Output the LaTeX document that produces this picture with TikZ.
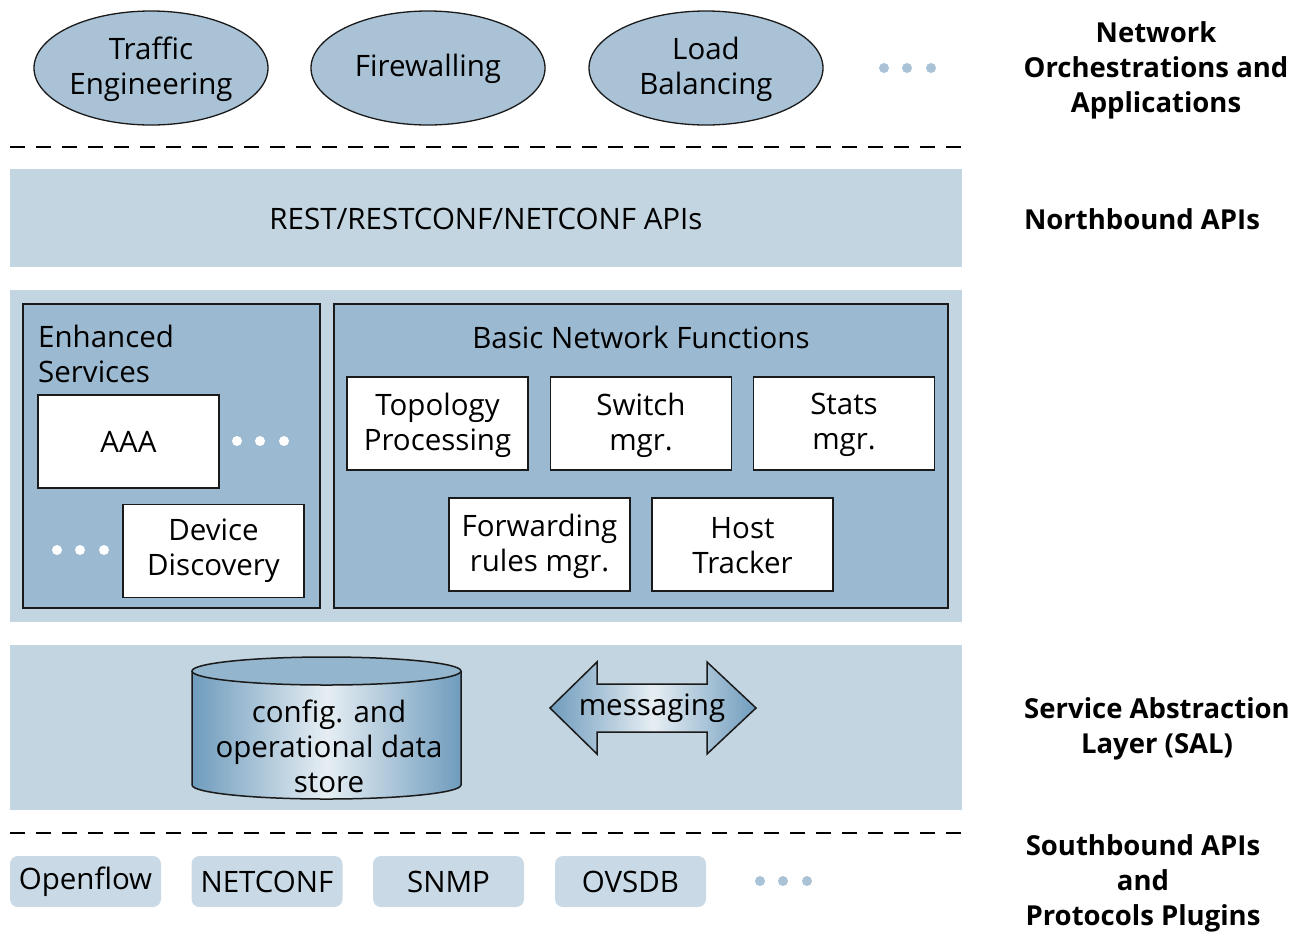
\documentclass[tikz,border=0pt]{standalone}
\usepackage{fontspec}
\setmainfont{Open Sans}
\usetikzlibrary{shapes.geometric,shapes.arrows}
\definecolor{band}{HTML}{C2D5E1}
\definecolor{inner}{HTML}{9BB9D0}
\definecolor{ell}{HTML}{A9C2D6}
\definecolor{plug}{HTML}{C9DAE6}
\definecolor{cyldark}{HTML}{6F9CBD}
\definecolor{cyllight}{HTML}{E6EEF3}
\definecolor{edge}{HTML}{1A1A1A}
\tikzset{
  txt/.style={font=\fontsize{29.5}{35}\selectfont, align=center, inner sep=0pt},
  lbl/.style={font=\fontsize{27.5}{35}\selectfont\bfseries, align=center, inner sep=0pt},
  app/.style={ellipse, draw=edge, line width=1.3pt, fill=ell, minimum width=234pt, minimum height=114pt, txt},
  whitebox/.style={draw=edge, line width=1.5pt, fill=white, minimum width=181pt, minimum height=93pt, txt},
  bandrect/.style={fill=band},
  innerrect/.style={draw=edge, line width=1.5pt, fill=inner},
  sep/.style={line width=2.5pt, dash pattern=on 15pt off 11pt},
  plugbox/.style={fill=plug, rounded corners=8pt, minimum width=151pt, minimum height=51pt, txt},
  bluedot/.style={circle, fill=ell, minimum size=10pt, inner sep=0pt},
  whitedot/.style={circle, fill=white, minimum size=10pt, inner sep=0pt},
}
\begin{document}
\begin{tikzpicture}[x=1pt,y=-1pt]
\useasboundingbox (0,0) rectangle (1292,946);
% top applications
\node[app] (te) at (151,68) {};
\node[txt] (tet) at (151,69) {Traffic\\Engineering};
\node[app] (fw) at (428,68) {};
\node[txt] (fwt) at (428,69) {Firewalling};
\node[app] (lb) at (706,68) {};
\node[txt] (lbt) at (706,69) {Load\\Balancing};
\foreach \x/\n in {884/a,907/b,931/c} \node[bluedot] (td\n) at (\x,68) {};
\draw[sep] (10,147) -- (962,147);
% northbound
\fill[bandrect] (10,169) rectangle (962,267);
\node[txt] (nb) at (486,219) {REST/RESTCONF/NETCONF APIs};
% middle band
\fill[bandrect] (10,290) rectangle (962,622);
\draw[innerrect] (23,304) rectangle (320,608);
\node[txt, align=left, anchor=west] (es) at (38,354) {Enhanced\\Services};
\node[whitebox] (aaa) at (128.5,441.5) {AAA};
\foreach \x/\n in {237/a,260/b,284/c} \node[whitedot] (ad\n) at (\x,441) {};
\node[whitebox] (dd) at (213.5,551) {};
\node[txt] (ddt) at (213.5,551) {Device\\Discovery};
\foreach \x/\n in {57/a,80/b,104/c} \node[whitedot] (dd\n) at (\x,550) {};
\draw[innerrect] (334,304) rectangle (948,608);
\node[txt] (bnf) at (641,337) {Basic Network Functions};
\node[whitebox] (tp) at (437.5,423.5) {};
\node[txt] (tpt) at (437.5,425) {Topology\\Processing};
\node[whitebox] (sm) at (641,423.5) {};
\node[txt] (smt) at (641,425) {Switch\\mgr.};
\node[whitebox] (st) at (844,423.5) {};
\node[txt] (stt) at (844,425) {Stats\\mgr.};
\node[whitebox] (fr) at (539.5,544.5) {};
\node[txt] (frt) at (539.5,546) {Forwarding\\rules mgr.};
\node[whitebox] (ht) at (742.5,544.5) {};
\node[txt] (htt) at (742.5,546) {Host\\Tracker};
% SAL band
\fill[bandrect] (10,645) rectangle (962,810);
% cylinder
\shade[left color=cyldark, right color=cyldark, middle color=cyllight, shading angle=90]
  (192,671) -- (192,785) arc[start angle=180, end angle=360, x radius=134.5pt, y radius=14pt] -- (461,671) -- cycle;
\draw[edge, line width=1.5pt] (192,671) -- (192,785) arc[start angle=180, end angle=360, x radius=134.5pt, y radius=14pt] -- (461,671);
\draw[edge, line width=1.5pt, fill=cyldark!75!white] (326.5,671) ellipse[x radius=134.5pt, y radius=14pt];
\node[txt] (ds) at (329,746) {config. and\\operational data\\store};
% double arrow
\shade[left color=cyldark, right color=cyldark, middle color=cyllight]
  (550,708) -- (597,662) -- (597,684) -- (707,684) -- (707,662) -- (756,708) -- (707,754) -- (707,732) -- (597,732) -- (597,754) -- cycle;
\draw[edge, line width=1.5pt]
  (550,708) -- (597,662) -- (597,684) -- (707,684) -- (707,662) -- (756,708) -- (707,754) -- (707,732) -- (597,732) -- (597,754) -- cycle;
\node[txt] (msg) at (652,708) {messaging};
\draw[sep] (10,833) -- (962,833);
% plugins
\node[plugbox] (of) at (85.5,881.5) {Openflow};
\node[plugbox] (nc) at (267,881.5) {NETCONF};
\node[plugbox] (sn) at (448.5,881.5) {SNMP};
\node[plugbox] (ov) at (630.5,881.5) {OVSDB};
\foreach \x/\n in {760/a,783/b,807/c} \node[bluedot] (pd\n) at (\x,881) {};
% right labels
\node[lbl] (l1) at (1156,70) {Network\\Orchestrations and\\Applications};
\node[lbl] (l2) at (1142,219) {Northbound APIs};
\node[lbl] (l3) at (1157,729) {Service Abstraction\\Layer (SAL)};
\node[lbl] (l4) at (1143,883) {Southbound APIs\\and\\Protocols Plugins};
\end{tikzpicture}
\end{document}
